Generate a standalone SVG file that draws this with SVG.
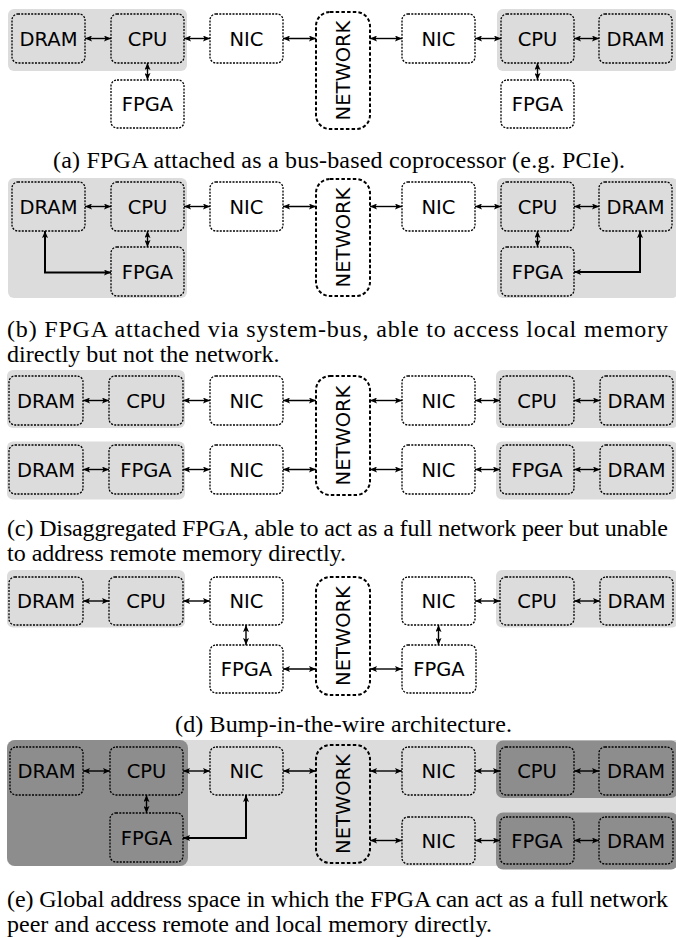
<svg xmlns="http://www.w3.org/2000/svg" width="676" height="938" viewBox="0 0 676 938">
<style>
.box{fill:none;stroke:#000;stroke-width:1.3;stroke-dasharray:2 1.3}
.net{fill:none;stroke:#000;stroke-width:2;stroke-dasharray:3.5 2.2}
.lbl{font-family:"DejaVu Sans",sans-serif;font-size:19.5px;text-anchor:middle;fill:#000}
.cap{font-family:"Liberation Serif",serif;font-size:24px;fill:#000}
.g1{fill:#dcdcdc}
.g2{fill:#8d8d8d}
.arr{fill:none;stroke:#000;stroke-width:1.4;marker-start:url(#ah);marker-end:url(#ah)}
.arr2{fill:none;stroke:#000;stroke-width:2;marker-start:url(#ah);marker-end:url(#ah)}
</style>
<defs>
<marker id="ah" markerUnits="userSpaceOnUse" markerWidth="8" markerHeight="6" refX="7" refY="3" orient="auto-start-reverse">
<path d="M0,0 L7,3 L0,6 L1.5,3 z" fill="#000"/>
</marker>
</defs>
<rect width="676" height="938" fill="#fff"/>

<!-- backgrounds -->
<g id="backgrounds">
<rect class="g1" x="8" y="9" width="179" height="62" rx="6"/>
<rect class="g1" x="497" y="9" width="181" height="62" rx="6"/>
<rect class="g1" x="8" y="178" width="179" height="120" rx="6"/>
<rect class="g1" x="497" y="178" width="181" height="120" rx="6"/>
<rect class="g1" x="7" y="370" width="178" height="58" rx="6"/>
<rect class="g1" x="496" y="370" width="182" height="58" rx="6"/>
<rect class="g1" x="7" y="441.5" width="178" height="58" rx="6"/>
<rect class="g1" x="496" y="441.5" width="182" height="58" rx="6"/>
<rect class="g1" x="7" y="570" width="178" height="57.5" rx="6"/>
<rect class="g1" x="496" y="570" width="182" height="57.5" rx="6"/>
<rect class="g1" x="7" y="740" width="675" height="126" rx="7"/>
<rect class="g2" x="7" y="740" width="181" height="126" rx="8"/>
<rect class="g2" x="496" y="740.5" width="182" height="57.5" rx="7"/>
<rect class="g2" x="496" y="812.5" width="182" height="57" rx="7"/>
</g>

<!-- panel a -->
<g id="a-dram-l"><rect class="box" x="12" y="14" width="73" height="49" rx="6"/><text class="lbl" x="48.5" y="45.5">DRAM</text></g>
<g id="a-cpu-l"><rect class="box" x="111" y="14" width="73" height="49" rx="6"/><text class="lbl" x="147.5" y="45.5">CPU</text></g>
<g id="a-nic-l"><rect class="box" x="210" y="14" width="73" height="49" rx="6"/><text class="lbl" x="246.5" y="45.5">NIC</text></g>
<g id="a-fpga-l"><rect class="box" x="111" y="80" width="73" height="48" rx="6"/><text class="lbl" x="147.5" y="111">FPGA</text></g>
<g id="a-net"><rect class="net" x="316" y="12" width="54" height="117" rx="14"/><text class="lbl" transform="translate(343,70.5) rotate(-90)" x="0" y="7">NETWORK</text></g>
<g id="a-nic-r"><rect class="box" x="402" y="14" width="73" height="49" rx="6"/><text class="lbl" x="438.5" y="45.5">NIC</text></g>
<g id="a-cpu-r"><rect class="box" x="501" y="14" width="73" height="49" rx="6"/><text class="lbl" x="537.5" y="45.5">CPU</text></g>
<g id="a-dram-r"><rect class="box" x="599" y="14" width="73" height="49" rx="6"/><text class="lbl" x="635.5" y="45.5">DRAM</text></g>
<g id="a-fpga-r"><rect class="box" x="501" y="80" width="73" height="48" rx="6"/><text class="lbl" x="537.5" y="111">FPGA</text></g>

<!-- panel b -->
<g id="b-dram-l"><rect class="box" x="12" y="182" width="73" height="49" rx="6"/><text class="lbl" x="48.5" y="213.5">DRAM</text></g>
<g id="b-cpu-l"><rect class="box" x="111" y="182" width="73" height="49" rx="6"/><text class="lbl" x="147.5" y="213.5">CPU</text></g>
<g id="b-nic-l"><rect class="box" x="210" y="182" width="73" height="49" rx="6"/><text class="lbl" x="246.5" y="213.5">NIC</text></g>
<g id="b-fpga-l"><rect class="box" x="111" y="247" width="73" height="49" rx="6"/><text class="lbl" x="147.5" y="278.5">FPGA</text></g>
<g id="b-net"><rect class="net" x="316" y="179" width="54" height="117" rx="14"/><text class="lbl" transform="translate(343,237.5) rotate(-90)" x="0" y="7">NETWORK</text></g>
<g id="b-nic-r"><rect class="box" x="402" y="182" width="73" height="49" rx="6"/><text class="lbl" x="438.5" y="213.5">NIC</text></g>
<g id="b-cpu-r"><rect class="box" x="501" y="182" width="73" height="49" rx="6"/><text class="lbl" x="537.5" y="213.5">CPU</text></g>
<g id="b-dram-r"><rect class="box" x="599" y="182" width="73" height="49" rx="6"/><text class="lbl" x="635.5" y="213.5">DRAM</text></g>
<g id="b-fpga-r"><rect class="box" x="501" y="247" width="73" height="49" rx="6"/><text class="lbl" x="537.5" y="278.5">FPGA</text></g>

<!-- panel c -->
<g id="c-dram-l1"><rect class="box" x="9" y="376" width="74" height="49" rx="6"/><text class="lbl" x="46" y="407.5">DRAM</text></g>
<g id="c-cpu-l"><rect class="box" x="109" y="376" width="74" height="49" rx="6"/><text class="lbl" x="146" y="407.5">CPU</text></g>
<g id="c-nic-l1"><rect class="box" x="210" y="376" width="73" height="49" rx="6"/><text class="lbl" x="246.5" y="407.5">NIC</text></g>
<g id="c-dram-l2"><rect class="box" x="9" y="445" width="74" height="49" rx="6"/><text class="lbl" x="46" y="476.5">DRAM</text></g>
<g id="c-fpga-l"><rect class="box" x="109" y="445" width="74" height="49" rx="6"/><text class="lbl" x="146" y="476.5">FPGA</text></g>
<g id="c-nic-l2"><rect class="box" x="210" y="445" width="73" height="49" rx="6"/><text class="lbl" x="246.5" y="476.5">NIC</text></g>
<g id="c-net"><rect class="net" x="316" y="376" width="54" height="119" rx="14"/><text class="lbl" transform="translate(343,435.5) rotate(-90)" x="0" y="7">NETWORK</text></g>
<g id="c-nic-r1"><rect class="box" x="402" y="376" width="73" height="49" rx="6"/><text class="lbl" x="438.5" y="407.5">NIC</text></g>
<g id="c-cpu-r"><rect class="box" x="500" y="376" width="74" height="49" rx="6"/><text class="lbl" x="537" y="407.5">CPU</text></g>
<g id="c-dram-r1"><rect class="box" x="600" y="376" width="73" height="49" rx="6"/><text class="lbl" x="636.5" y="407.5">DRAM</text></g>
<g id="c-nic-r2"><rect class="box" x="402" y="445" width="73" height="49" rx="6"/><text class="lbl" x="438.5" y="476.5">NIC</text></g>
<g id="c-fpga-r"><rect class="box" x="500" y="445" width="74" height="49" rx="6"/><text class="lbl" x="537" y="476.5">FPGA</text></g>
<g id="c-dram-r2"><rect class="box" x="600" y="445" width="73" height="49" rx="6"/><text class="lbl" x="636.5" y="476.5">DRAM</text></g>

<!-- panel d -->
<g id="d-dram-l"><rect class="box" x="9" y="577" width="74" height="48" rx="6"/><text class="lbl" x="46" y="608">DRAM</text></g>
<g id="d-cpu-l"><rect class="box" x="109" y="577" width="74" height="48" rx="6"/><text class="lbl" x="146" y="608">CPU</text></g>
<g id="d-nic-l"><rect class="box" x="210" y="577" width="73" height="48" rx="6"/><text class="lbl" x="246.5" y="608">NIC</text></g>
<g id="d-fpga-l"><rect class="box" x="210" y="645" width="73" height="48" rx="6"/><text class="lbl" x="246.5" y="676">FPGA</text></g>
<g id="d-net"><rect class="net" x="316" y="577" width="54" height="118" rx="14"/><text class="lbl" transform="translate(343,636) rotate(-90)" x="0" y="7">NETWORK</text></g>
<g id="d-nic-r"><rect class="box" x="402" y="577" width="73" height="48" rx="6"/><text class="lbl" x="438.5" y="608">NIC</text></g>
<g id="d-fpga-r"><rect class="box" x="402" y="645" width="74" height="48" rx="6"/><text class="lbl" x="439" y="676">FPGA</text></g>
<g id="d-cpu-r"><rect class="box" x="500" y="577" width="74" height="48" rx="6"/><text class="lbl" x="537" y="608">CPU</text></g>
<g id="d-dram-r"><rect class="box" x="600" y="577" width="73" height="48" rx="6"/><text class="lbl" x="636.5" y="608">DRAM</text></g>

<!-- panel e -->
<g id="e-dram-l"><rect class="box" x="10" y="747" width="73" height="48" rx="6"/><text class="lbl" x="46.5" y="778">DRAM</text></g>
<g id="e-cpu-l"><rect class="box" x="110" y="747" width="73" height="48" rx="6"/><text class="lbl" x="146.5" y="778">CPU</text></g>
<g id="e-nic-l"><rect class="box" x="210" y="747" width="73" height="48" rx="6"/><text class="lbl" x="246.5" y="778">NIC</text></g>
<g id="e-fpga-l"><rect class="box" x="110" y="813" width="73" height="49" rx="6"/><text class="lbl" x="146.5" y="844.5">FPGA</text></g>
<g id="e-net"><rect class="net" x="316" y="745" width="54" height="118" rx="14"/><text class="lbl" transform="translate(343,804) rotate(-90)" x="0" y="7">NETWORK</text></g>
<g id="e-nic-r1"><rect class="box" x="402" y="747" width="73" height="48" rx="6"/><text class="lbl" x="438.5" y="778">NIC</text></g>
<g id="e-cpu-r"><rect class="box" x="500" y="747" width="74" height="48" rx="6"/><text class="lbl" x="537" y="778">CPU</text></g>
<g id="e-dram-r1"><rect class="box" x="599" y="747" width="74" height="48" rx="6"/><text class="lbl" x="636" y="778">DRAM</text></g>
<g id="e-nic-r2"><rect class="box" x="402" y="817" width="73" height="47" rx="6"/><text class="lbl" x="438.5" y="847.5">NIC</text></g>
<g id="e-fpga-r"><rect class="box" x="500" y="817" width="74" height="47" rx="6"/><text class="lbl" x="537" y="847.5">FPGA</text></g>
<g id="e-dram-r2"><rect class="box" x="599" y="817" width="74" height="47" rx="6"/><text class="lbl" x="636" y="847.5">DRAM</text></g>

<!-- connectors -->
<g id="connectors">
<path class="arr" d="M85,38.5H111"/>
<path class="arr" d="M184,38.5H210"/>
<path class="arr" d="M283,38.5H316"/>
<path class="arr" d="M370,38.5H402"/>
<path class="arr" d="M475,38.5H501"/>
<path class="arr" d="M574,38.5H599"/>
<path class="arr" d="M147.5,63V80"/>
<path class="arr" d="M537.5,63V80"/>

<path class="arr" d="M85,206.5H111"/>
<path class="arr" d="M184,206.5H210"/>
<path class="arr" d="M283,206.5H316"/>
<path class="arr" d="M370,206.5H402"/>
<path class="arr" d="M475,206.5H501"/>
<path class="arr" d="M574,206.5H599"/>
<path class="arr" d="M147.5,231V247"/>
<path class="arr" d="M537.5,231V247"/>
<path class="arr2" d="M45,231V272.5H111"/>
<path class="arr2" d="M574,272H640V231"/>

<path class="arr" d="M83,400.5H109"/>
<path class="arr" d="M183,400.5H210"/>
<path class="arr" d="M283,400.5H316"/>
<path class="arr" d="M370,400.5H402"/>
<path class="arr" d="M475,400.5H500"/>
<path class="arr" d="M574,400.5H600"/>
<path class="arr" d="M83,469.5H109"/>
<path class="arr" d="M183,469.5H210"/>
<path class="arr" d="M283,469.5H316"/>
<path class="arr" d="M370,469.5H402"/>
<path class="arr" d="M475,469.5H500"/>
<path class="arr" d="M574,469.5H600"/>

<path class="arr" d="M83,601H109"/>
<path class="arr" d="M183,601H210"/>
<path class="arr" d="M475,601H500"/>
<path class="arr" d="M574,601H600"/>
<path class="arr" d="M246,625V645"/>
<path class="arr" d="M438.5,625V645"/>
<path class="arr" d="M283,669H316"/>
<path class="arr" d="M370,669H402"/>

<path class="arr" d="M83,771H110"/>
<path class="arr" d="M183,771H210"/>
<path class="arr" d="M283,771H316"/>
<path class="arr" d="M370,771H402"/>
<path class="arr" d="M475,771H500"/>
<path class="arr" d="M574,771H599"/>
<path class="arr" d="M146.5,795V813"/>
<path class="arr" d="M370,840.5H402"/>
<path class="arr" d="M475,840.5H500"/>
<path class="arr" d="M574,840.5H599"/>
<path class="arr2" d="M183,838H246V795"/>
</g>

<!-- captions -->
<g id="captions">
<text class="cap" x="339" y="167.5" text-anchor="middle" textLength="572" lengthAdjust="spacing">(a) FPGA attached as a bus-based coprocessor (e.g. PCIe).</text>
<text class="cap" x="7" y="336.5" textLength="661" lengthAdjust="spacing">(b) FPGA attached via system-bus, able to access local memory</text>
<text class="cap" x="7" y="361.5">directly but not the network.</text>
<text class="cap" x="7" y="536" textLength="661" lengthAdjust="spacing">(c) Disaggregated FPGA, able to act as a full network peer but unable</text>
<text class="cap" x="7" y="561">to address remote memory directly.</text>
<text class="cap" x="343.5" y="731.5" text-anchor="middle" textLength="337" lengthAdjust="spacing">(d) Bump-in-the-wire architecture.</text>
<text class="cap" x="7" y="906.5" textLength="661" lengthAdjust="spacing">(e) Global address space in which the FPGA can act as a full network</text>
<text class="cap" x="7" y="931.5">peer and access remote and local memory directly.</text>
</g>
</svg>
